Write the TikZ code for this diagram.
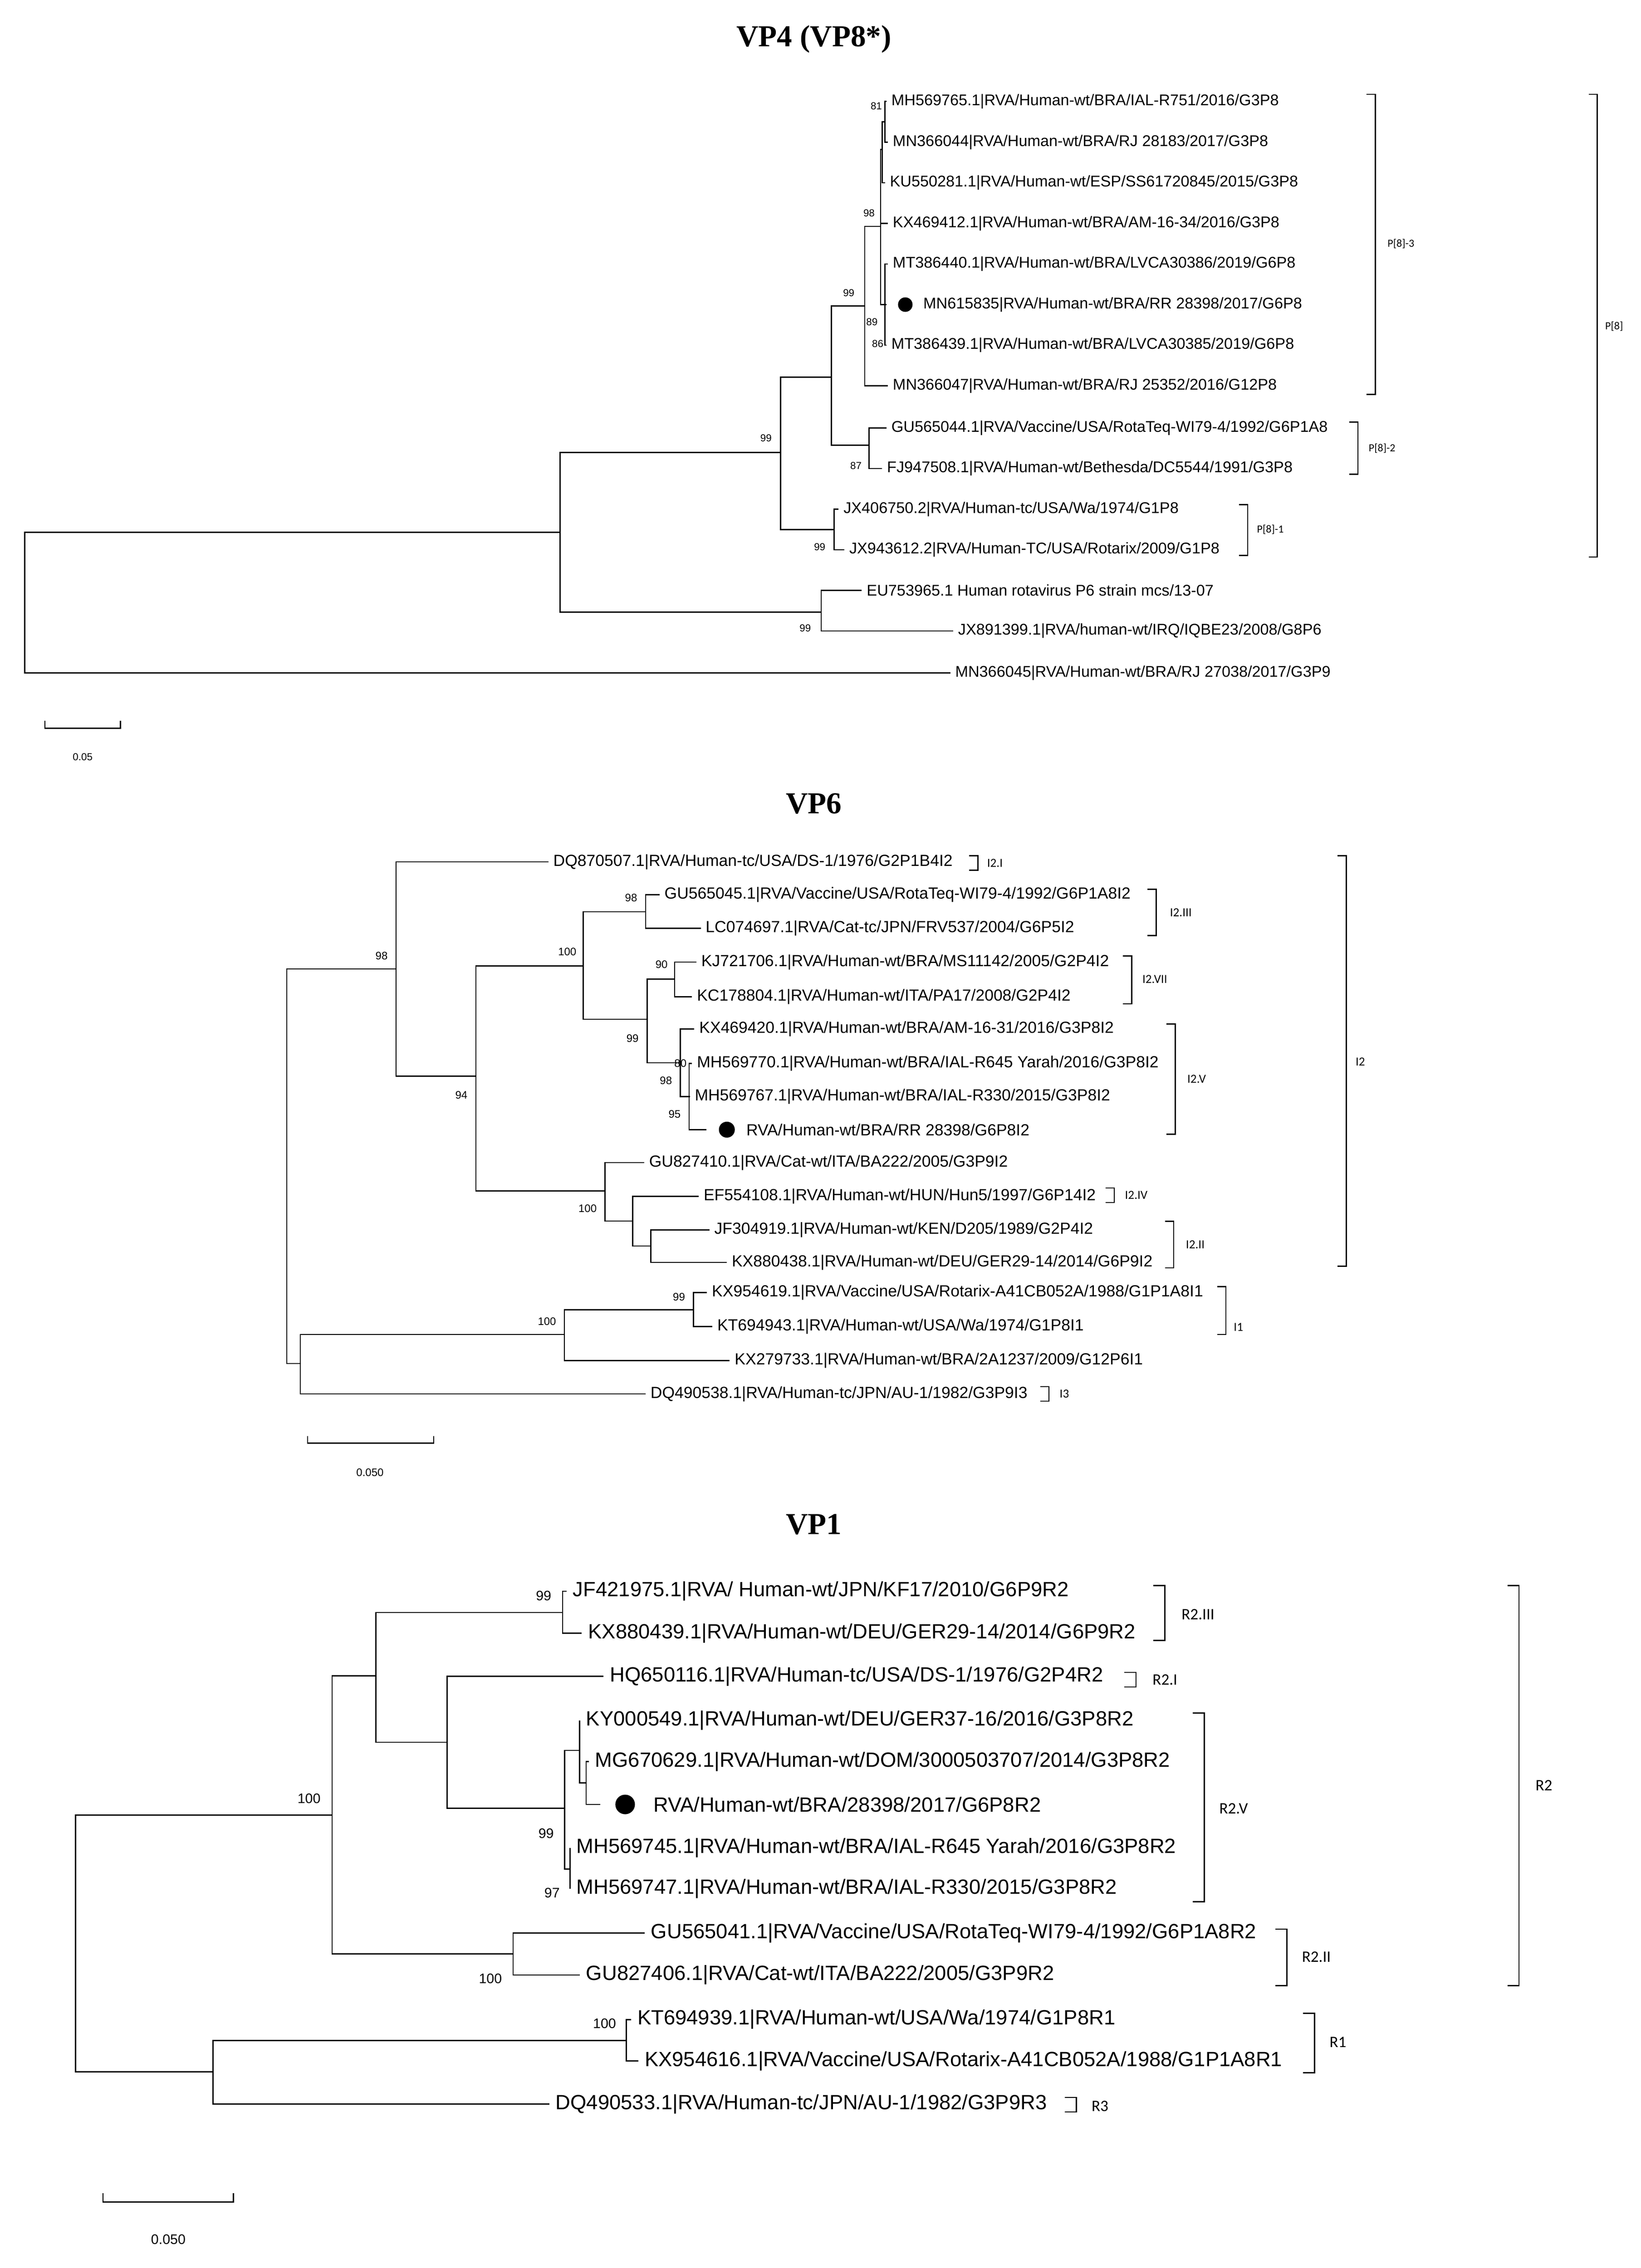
\documentclass[tikz,border=0pt]{standalone}
\usepackage{fontspec}
\setmainfont{Liberation Sans}
\newfontfamily\ttl{Liberation Serif}
\newfontfamily\brf{Carlito}
\begin{document}
\begin{tikzpicture}[x=1pt,y=-1pt,line width=0.85pt,
  lf4/.style={anchor=west,inner xsep=3pt,inner ysep=0pt,font=\fontsize{10.7}{12}\selectfont},
  lf6/.style={anchor=west,inner xsep=3pt,inner ysep=0pt,font=\fontsize{11.1}{12}\selectfont},
  lf1/.style={anchor=west,inner xsep=4pt,inner ysep=0pt,font=\fontsize{14.2}{15}\selectfont},
  bs4/.style={inner sep=0pt,font=\fontsize{7}{8}\selectfont},
  bs6/.style={inner sep=0pt,font=\fontsize{7.5}{8}\selectfont},
  bs1/.style={inner sep=0pt,font=\fontsize{9.5}{10}\selectfont},
  bl4/.style={anchor=west,inner sep=0pt,font=\brf\fontsize{7.5}{8}\selectfont},
  bl6/.style={anchor=west,inner sep=0pt,font=\brf\fontsize{8.5}{9}\selectfont},
  bl1/.style={anchor=west,inner sep=0pt,font=\brf\fontsize{11}{12}\selectfont},
  title/.style={font=\ttl\bfseries\fontsize{21}{24}\selectfont},
  dot/.style={circle,fill=black,inner sep=0pt}]
\useasboundingbox (0,0) rectangle (1131.1,1563.6);
\fill[white] (0,0) rectangle (1131.1,1563.6);

% ================= VP4 =================
\node[title] (t4) at (561,27) {VP4 (VP8*)};
\coordinate (r4) at (17,415);
\coordinate (A4) at (386,367);
\coordinate (B4) at (538,312);
\coordinate (C4) at (566,422);
\coordinate (D4) at (573,260);
\coordinate (K4) at (575,365);
\coordinate (E4) at (596,211);
\coordinate (J4) at (599,307);
\coordinate (F4) at (607,156);
\coordinate (G4) at (608,103);
\coordinate (H4) at (610,84);
\coordinate (I4) at (610,210);
\node[lf4] (a1) at (611,70) {MH569765.1|RVA/Human-wt/BRA/IAL-R751/2016/G3P8};
\node[lf4] (a2) at (612,98) {MN366044|RVA/Human-wt/BRA/RJ 28183/2017/G3P8};
\node[lf4] (a3) at (610,126) {KU550281.1|RVA/Human-wt/ESP/SS61720845/2015/G3P8};
\node[lf4] (a4) at (612,154) {KX469412.1|RVA/Human-wt/BRA/AM-16-34/2016/G3P8};
\node[lf4] (a5) at (612,182) {MT386440.1|RVA/Human-wt/BRA/LVCA30386/2019/G6P8};
\coordinate (a6) at (611,210);
\node[dot,minimum size=10pt] (d4) at (624,210) {};
\node[lf4] (a6t) at (633,210) {MN615835|RVA/Human-wt/BRA/RR 28398/2017/G6P8};
\node[lf4] (a7) at (611,238) {MT386439.1|RVA/Human-wt/BRA/LVCA30385/2019/G6P8};
\node[lf4] (a8) at (612,266) {MN366047|RVA/Human-wt/BRA/RJ 25352/2016/G12P8};
\node[lf4] (a9) at (611,295) {GU565044.1|RVA/Vaccine/USA/RotaTeq-WI79-4/1992/G6P1A8};
\node[lf4] (a10) at (608,323) {FJ947508.1|RVA/Human-wt/Bethesda/DC5544/1991/G3P8};
\node[lf4] (a11) at (578,351) {JX406750.2|RVA/Human-tc/USA/Wa/1974/G1P8};
\node[lf4] (a12) at (582,379) {JX943612.2|RVA/Human-TC/USA/Rotarix/2009/G1P8};
\node[lf4] (a13) at (594,407) {EU753965.1 Human rotavirus P6 strain mcs/13-07};
\node[lf4] (a14) at (657,435) {JX891399.1|RVA/human-wt/IRQ/IQBE23/2008/G8P6};
\node[lf4] (a15) at (655,464) {MN366045|RVA/Human-wt/BRA/RJ 27038/2017/G3P9};
\foreach \p/\c in {r4/A4,r4/a15,A4/B4,A4/C4,C4/a13,C4/a14,B4/D4,B4/K4,K4/a11,K4/a12,
  D4/E4,D4/J4,J4/a9,J4/a10,E4/F4,E4/a8,F4/G4,F4/a4,F4/I4,G4/H4,G4/a3,H4/a1,H4/a2,
  I4/a5,I4/a6,I4/a7}
  \draw (\p) |- (\c);
\node[bs4] (b4a) at (604,73) {81};
\node[bs4] (b4b) at (599,147) {98};
\node[bs4] (b4c) at (585,202) {99};
\node[bs4] (b4d) at (601,222) {89};
\node[bs4] (b4e) at (605,237) {86};
\node[bs4] (b4f) at (590,321) {87};
\node[bs4] (b4g) at (565,377) {99};
\node[bs4] (b4h) at (528,302) {99};
\node[bs4] (b4i) at (555,433) {99};
\draw (942,65) -- (948,65) -- (948,272) -- (942,272);
\node[bl4] (p83) at (956,168) {P[8]-3};
\draw (930,291) -- (936,291) -- (936,327) -- (930,327);
\node[bl4] (p82) at (943,309) {P[8]-2};
\draw (854,348) -- (860,348) -- (860,383) -- (854,383);
\node[bl4] (p81) at (866,365) {P[8]-1};
\draw (1095,65) -- (1101,65) -- (1101,384) -- (1095,384);
\node[bl4] (p8) at (1106,225) {P[8]};
\draw (31,497) -- (31,502) -- (83,502) -- (83,497);
\node[bs4] (s4) at (57,522) {0.05};

% ================= VP6 =================
\node[title] (t6) at (561,554) {VP6};
\coordinate (r6) at (197.6,800);
\coordinate (N98) at (273,668);
\coordinate (X6) at (207,940);
\coordinate (N94) at (328,742);
\coordinate (N100a) at (402,666);
\coordinate (N100b) at (417,821);
\coordinate (N98b) at (445,628.6);
\coordinate (N99) at (446,702.7);
\coordinate (N90) at (465,675);
\coordinate (N98c) at (469,732.7);
\coordinate (N95) at (475,756);
\coordinate (Nb2) at (436,841.8);
\coordinate (Nb3) at (448.6,859);
\coordinate (N100c) at (389,920);
\coordinate (N99i) at (478,903);
\node[lf6] (c1) at (378,594.2) {DQ870507.1|RVA/Human-tc/USA/DS-1/1976/G2P1B4I2};
\node[lf6] (c2) at (454.6,616.8) {GU565045.1|RVA/Vaccine/USA/RotaTeq-WI79-4/1992/G6P1A8I2};
\node[lf6] (c3) at (483,640) {LC074697.1|RVA/Cat-tc/JPN/FRV537/2004/G6P5I2};
\node[lf6] (c4) at (480,663.3) {KJ721706.1|RVA/Human-wt/BRA/MS11142/2005/G2P4I2};
\node[lf6] (c5) at (477,687.2) {KC178804.1|RVA/Human-wt/ITA/PA17/2008/G2P4I2};
\node[lf6] (c6) at (478.6,709.5) {KX469420.1|RVA/Human-wt/BRA/AM-16-31/2016/G3P8I2};
\node[lf6] (c7) at (477,733.1) {MH569770.1|RVA/Human-wt/BRA/IAL-R645 Yarah/2016/G3P8I2};
\node[lf6] (c8) at (475.5,756) {MH569767.1|RVA/Human-wt/BRA/IAL-R330/2015/G3P8I2};
\coordinate (c9) at (487,778.8);
\node[dot,minimum size=11pt] (d6) at (501,778.8) {};
\node[lf6] (c9t) at (511,778.8) {RVA/Human-wt/BRA/RR 28398/G6P8I2};
\node[lf6] (c10) at (444,801.5) {GU827410.1|RVA/Cat-wt/ITA/BA222/2005/G3P9I2};
\node[lf6] (c11) at (481.6,824.8) {EF554108.1|RVA/Human-wt/HUN/Hun5/1997/G6P14I2};
\node[lf6] (c12) at (489,848) {JF304919.1|RVA/Human-wt/KEN/D205/1989/G2P4I2};
\node[lf6] (c13) at (501,870.3) {KX880438.1|RVA/Human-wt/DEU/GER29-14/2014/G6P9I2};
\node[lf6] (c14) at (487.3,891) {KX954619.1|RVA/Vaccine/USA/Rotarix-A41CB052A/1988/G1P1A8I1};
\node[lf6] (c15) at (491,914.6) {KT694943.1|RVA/Human-wt/USA/Wa/1974/G1P8I1};
\node[lf6] (c16) at (503,938) {KX279733.1|RVA/Human-wt/BRA/2A1237/2009/G12P6I1};
\node[lf6] (c17) at (445,961) {DQ490538.1|RVA/Human-tc/JPN/AU-1/1982/G3P9I3};
\foreach \p/\c in {r6/N98,r6/X6,N98/c1,N98/N94,N94/N100a,N94/N100b,N100a/N98b,N100a/N99,
  N98b/c2,N98b/c3,N99/N90,N99/N98c,N90/c4,N90/c5,N98c/c6,N98c/c8,N98c/N95,N95/c7,N95/c9,
  N100b/c10,N100b/Nb2,Nb2/c11,Nb2/Nb3,Nb3/c12,Nb3/c13,X6/N100c,X6/c17,N100c/N99i,N100c/c16,
  N99i/c14,N99i/c15}
  \draw (\p) |- (\c);
\node[bs6] (e1) at (263,659) {98};
\node[bs6] (e2) at (318,755) {94};
\node[bs6] (e3) at (391,656) {100};
\node[bs6] (e4) at (435,619) {98};
\node[bs6] (e5) at (456,665) {90};
\node[bs6] (e6) at (436,716) {99};
\node[bs6] (e7) at (469,733) {80};
\node[bs6] (e8) at (459,745) {98};
\node[bs6] (e9) at (465,768) {95};
\node[bs6] (e10) at (405,833) {100};
\node[bs6] (e11) at (468,894) {99};
\node[bs6] (e12) at (377,911) {100};
\draw (668,590) -- (674,590) -- (674,600) -- (668,600);
\node[bl6] (i21) at (680,595) {I2.I};
\draw (791,613) -- (797,613) -- (797,645) -- (791,645);
\node[bl6] (i23) at (806,629) {I2.III};
\draw (774,659) -- (780,659) -- (780,692) -- (774,692);
\node[bl6] (i27) at (787,675) {I2.VII};
\draw (804,706) -- (810,706) -- (810,782) -- (804,782);
\node[bl6] (i25) at (818,744) {I2.V};
\draw (762,819) -- (768,819) -- (768,829) -- (762,829);
\node[bl6] (i24) at (775,824) {I2.IV};
\draw (803,842) -- (809,842) -- (809,874) -- (803,874);
\node[bl6] (i22) at (817,858) {I2.II};
\draw (922,590) -- (928,590) -- (928,873) -- (922,873);
\node[bl6] (i2) at (934,732) {I2};
\draw (839,887) -- (845,887) -- (845,920) -- (839,920);
\node[bl6] (i1) at (850,915) {I1};
\draw (717,956) -- (723,956) -- (723,966) -- (717,966);
\node[bl6] (i3) at (730,961) {I3};
\draw (212,990) -- (212,995) -- (299,995) -- (299,990);
\node[bs6] (s6) at (255,1015) {0.050};

% ================= VP1 =================
\node[title] (t1) at (561,1051) {VP1};
\coordinate (r1) at (52,1340);
\coordinate (M100) at (228.9,1251.4);
\coordinate (M148) at (146.9,1428.4);
\coordinate (Ma) at (259,1155.4);
\coordinate (M100b) at (353.7,1347.1);
\coordinate (M99t) at (387.8,1111.7);
\coordinate (M307) at (308.2,1201.1);
\coordinate (M99v) at (389.2,1246.6);
\coordinate (Mav) at (399.6,1206.8);
\coordinate (Mb) at (404,1229.2);
\coordinate (M97) at (392.9,1288.6);
\coordinate (M100c) at (431.7,1406.8);
\node[lf1] (g1) at (390.5,1097) {JF421975.1|RVA/ Human-wt/JPN/KF17/2010/G6P9R2};
\node[lf1] (g2) at (401,1126) {KX880439.1|RVA/Human-wt/DEU/GER29-14/2014/G6P9R2};
\node[lf1] (g3) at (416,1155.7) {HQ650116.1|RVA/Human-tc/USA/DS-1/1976/G2P4R2};
\node[lf1] (g4) at (399.6,1186) {KY000549.1|RVA/Human-wt/DEU/GER37-16/2016/G3P8R2};
\node[lf1] (g5) at (405.8,1214.5) {MG670629.1|RVA/Human-wt/DOM/3000503707/2014/G3P8R2};
\coordinate (g6) at (413.7,1244);
\node[dot,minimum size=13.5pt] (d1) at (430.9,1244) {};
\node[lf1] (g6t) at (446,1244) {RVA/Human-wt/BRA/28398/2017/G6P8R2};
\node[lf1] (g7) at (392.9,1274) {MH569745.1|RVA/Human-wt/BRA/IAL-R645 Yarah/2016/G3P8R2};
\node[lf1] (g8) at (392.9,1302) {MH569747.1|RVA/Human-wt/BRA/IAL-R330/2015/G3P8R2};
\node[lf1] (g9) at (444.3,1332.6) {GU565041.1|RVA/Vaccine/USA/RotaTeq-WI79-4/1992/G6P1A8R2};
\node[lf1] (g10) at (399.6,1361.6) {GU827406.1|RVA/Cat-wt/ITA/BA222/2005/G3P9R2};
\node[lf1] (g11) at (435,1392.3) {KT694939.1|RVA/Human-wt/USA/Wa/1974/G1P8R1};
\node[lf1] (g12) at (440,1420.8) {KX954616.1|RVA/Vaccine/USA/Rotarix-A41CB052A/1988/G1P1A8R1};
\node[lf1] (g13) at (378.6,1450.5) {DQ490533.1|RVA/Human-tc/JPN/AU-1/1982/G3P9R3};
\foreach \p/\c in {r1/M100,r1/M148,M100/Ma,M100/M100b,Ma/M99t,Ma/M307,M99t/g1,M99t/g2,
  M307/g3,M307/M99v,M99v/Mav,M99v/M97,Mav/g4,Mav/Mb,Mb/g5,Mb/g6,M97/g7,M97/g8,
  M100b/g9,M100b/g10,M148/M100c,M148/g13,M100c/g11,M100c/g12}
  \draw (\p) |- (\c);
\node[bs1] (h1) at (374.7,1100) {99};
\node[bs1] (h2) at (213,1240) {100};
\node[bs1] (h3) at (376.4,1264) {99};
\node[bs1] (h4) at (380.5,1305) {97};
\node[bs1] (h5) at (338,1364) {100};
\node[bs1] (h6) at (416.7,1395) {100};
\draw (795,1093) -- (803,1093) -- (803,1131) -- (795,1131);
\node[bl1] (r23) at (814,1113) {R2.III};
\draw (775,1153) -- (783,1153) -- (783,1163) -- (775,1163);
\node[bl1] (r21) at (794,1158) {R2.I};
\draw (822,1181) -- (830,1181) -- (830,1311) -- (822,1311);
\node[bl1] (r25) at (840,1247) {R2.V};
\draw (879,1330) -- (887,1330) -- (887,1369) -- (879,1369);
\node[bl1] (r22) at (897,1349) {R2.II};
\draw (1039,1093) -- (1047,1093) -- (1047,1369) -- (1039,1369);
\node[bl1] (r2) at (1058,1231) {R2};
\draw (898,1388) -- (906,1388) -- (906,1429) -- (898,1429);
\node[bl1] (rr1) at (916,1408) {R1};
\draw (734,1446) -- (742,1446) -- (742,1456) -- (734,1456);
\node[bl1] (r3) at (752,1452) {R3};
\draw (71,1512) -- (71,1518) -- (161,1518) -- (161,1512);
\node[bs1] (s1) at (116,1544) {0.050};
\end{tikzpicture}
\end{document}
